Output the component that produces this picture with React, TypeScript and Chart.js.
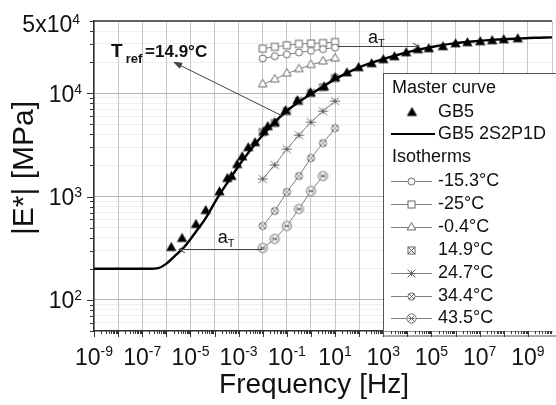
import React, { useEffect, useRef } from "react";
import { Chart, registerables } from "chart.js";

Chart.register(...registerables);

const FONT = "'Liberation Sans', Arial, Helvetica, sans-serif";

// ---- Master curve GB5 (shifted measurements): frequency [Hz], |E*| [MPa]
const masterFreq = [1.6e-6, 4.5e-6, 1.7e-5, 4.3e-5, 1.6e-4, 3.4e-4, 5.0e-4, 8.7e-4, 1.4e-3, 2.5e-3, 4.8e-3, 0.0112, 0.0162, 0.0316, 0.089, 0.275, 0.95, 3.5, 10, 31, 95, 330, 1000, 2900, 8900, 2.75e4, 7.8e4, 3.0e5, 1.0e6, 3.1e6, 1.05e7, 3.3e7, 1.0e8, 3.8e8];
const masterE = [318, 389, 531, 724, 1100, 1480, 1550, 2020, 2400, 2940, 3290, 4200, 4700, 5130, 6700, 8380, 10000, 11400, 14000, 15600, 17500, 19100, 20900, 22300, 24400, 26100, 26700, 27900, 29800, 30500, 31200, 31900, 32600, 33300];

// ---- GB5 2S2P1D model curve
const fitFreq = [1e-9, 2e-7, 5e-7, 9.8e-7, 2.5e-6, 6.5e-6, 1.66e-5, 4.3e-5, 1.2e-4, 3.7e-4, 1.55e-3, 6.3e-3, 0.026, 0.107, 0.45, 1.8, 12, 80, 525, 3470, 2.3e4, 1.5e5, 1e6, 6.6e6, 4.4e7, 2.9e8, 1.9e9, 1e10];
const fitE = [200, 200, 204, 223, 272, 339, 454, 619, 935, 1400, 2280, 3470, 5030, 6850, 8720, 10700, 14000, 17400, 20400, 23300, 26100, 28500, 30500, 31900, 33000, 33700, 34400, 34700];

// ---- Isotherms
const isoFreq = [0.01, 0.0316, 0.1, 0.316, 1, 3.16, 10];
const isoM15_3 = [21700, 22800, 23800, 24800, 25700, 26700, 27700];
const isoM25 = [27000, 28100, 29100, 30000, 30300, 30600, 31300];
const isoM0_4 = [12200, 13600, 15500, 17100, 18800, 20300, 21700];
const iso14_9 = [4200, 5130, 6700, 8380, 10000, 11400, 14000];
const iso24_7 = [1480, 2020, 2880, 3930, 5250, 6710, 8380];
const iso34_4 = [519, 724, 1106, 1580, 2360, 3290, 4590];
const iso43_5 = [318, 389, 519, 758, 1130, 1580];

const isoLabels = ["-15.3°C", "-25°C", "-0.4°C", "14.9°C", "24.7°C", "34.4°C", "43.5°C"];
const isoValues = [isoM15_3, isoM25, isoM0_4, iso14_9, iso24_7, iso34_4, iso43_5];
const isoMarkers = ["circle", "square", "triangle", "boxX", "star", "circXs", "circXl"];
const isoHasLine = [true, true, true, false, true, true, true];

// ---- axes
const xMin = 1e-9;
const xMax = 1e10;
const yMin = 50;
const yMax = 5e4;
const xLabelExps = [-9, -7, -5, -3, -1, 1, 3, 5, 7, 9];
const yLabelExps = [2, 3, 4];

const AXIS = "#333333";
const MK = "#676767";
const LN = "#808080";
const TXT = "#111111";

function makeMarker(kind: string): HTMLCanvasElement {
  const size = 15;
  const c = document.createElement("canvas");
  c.width = size;
  c.height = size;
  const g = c.getContext("2d")!;
  const m = size / 2;
  g.lineWidth = 1;
  g.strokeStyle = MK;
  g.fillStyle = "#ffffff";
  const xcross = (d: number) => {
    g.beginPath();
    g.moveTo(m - d, m - d);
    g.lineTo(m + d, m + d);
    g.moveTo(m + d, m - d);
    g.lineTo(m - d, m + d);
    g.stroke();
  };
  if (kind === "master") {
    const r = 6;
    g.fillStyle = "#000";
    g.beginPath();
    g.moveTo(m, m - r);
    g.lineTo(m + r * 0.866, m + r * 0.5);
    g.lineTo(m - r * 0.866, m + r * 0.5);
    g.closePath();
    g.fill();
  } else if (kind === "circle") {
    g.beginPath();
    g.arc(m, m, 3.5, 0, Math.PI * 2);
    g.fill();
    g.stroke();
  } else if (kind === "square") {
    g.fillRect(m - 3.5, m - 3.5, 7, 7);
    g.strokeRect(m - 3.5, m - 3.5, 7, 7);
  } else if (kind === "triangle") {
    const r = 5;
    g.beginPath();
    g.moveTo(m, m - r);
    g.lineTo(m + r * 0.866, m + r * 0.5);
    g.lineTo(m - r * 0.866, m + r * 0.5);
    g.closePath();
    g.fill();
    g.stroke();
  } else if (kind === "boxX") {
    g.fillRect(m - 3.5, m - 3.5, 7, 7);
    g.strokeRect(m - 3.5, m - 3.5, 7, 7);
    xcross(3.5);
  } else if (kind === "star") {
    g.beginPath();
    g.arc(m, m, 3, 0, Math.PI * 2);
    g.fill();
    g.beginPath();
    g.moveTo(m - 5, m);
    g.lineTo(m + 5, m);
    g.stroke();
    xcross(4);
    g.beginPath();
    g.moveTo(m, m - 3);
    g.lineTo(m, m + 3);
    g.stroke();
  } else if (kind === "circXs") {
    g.beginPath();
    g.arc(m, m, 3.6, 0, Math.PI * 2);
    g.fill();
    g.stroke();
    xcross(2.5);
  } else if (kind === "circXl") {
    g.beginPath();
    g.arc(m, m, 4.6, 0, Math.PI * 2);
    g.fill();
    g.stroke();
    xcross(3.3);
    g.beginPath();
    g.moveTo(m - 3, m);
    g.lineTo(m + 3, m);
    g.stroke();
  }
  return c;
}

function drawPow(ctx: CanvasRenderingContext2D, pre: string, exp: string, x: number, y: number, align: string, big: number, small: number, rise: number) {
  ctx.font = `${big}px ${FONT}`;
  const wb = ctx.measureText(pre).width;
  ctx.font = `${small}px ${FONT}`;
  const we = ctx.measureText(exp).width;
  const total = wb + we;
  const x0 = align === "center" ? x - total / 2 : align === "right" ? x - total : x;
  ctx.textAlign = "left";
  ctx.textBaseline = "alphabetic";
  ctx.font = `${big}px ${FONT}`;
  ctx.fillText(pre, x0, y);
  ctx.font = `${small}px ${FONT}`;
  ctx.fillText(exp, x0 + wb, y - rise);
}

function line(ctx: CanvasRenderingContext2D, x1: number, y1: number, x2: number, y2: number) {
  ctx.beginPath();
  ctx.moveTo(x1, y1);
  ctx.lineTo(x2, y2);
  ctx.stroke();
}

function arrowHead(ctx: CanvasRenderingContext2D, x: number, y: number, ang: number, len: number, spread: number, filled: boolean) {
  const a1 = ang + Math.PI - spread;
  const a2 = ang + Math.PI + spread;
  ctx.beginPath();
  ctx.moveTo(x + Math.cos(a1) * len, y + Math.sin(a1) * len);
  ctx.lineTo(x, y);
  ctx.lineTo(x + Math.cos(a2) * len, y + Math.sin(a2) * len);
  if (filled) {
    ctx.closePath();
    ctx.fill();
  }
  ctx.stroke();
}

const isDecade = (v: number) => Math.abs(Math.log10(v) - Math.round(Math.log10(v))) < 1e-6;

export default function App() {
  const ref = useRef<HTMLCanvasElement>(null);

  useEffect(() => {
    const canvas = ref.current!;
    const markers: Record<string, HTMLCanvasElement> = {};
    ["master", ...isoMarkers].forEach((k) => (markers[k] = makeMarker(k)));

    const xGrid: number[] = [];
    for (let e = Math.log10(xMin); e <= Math.log10(xMax); e++) xGrid.push(Math.pow(10, e));
    const yGrid: number[] = [];
    for (let e = 1; e <= 4; e++) for (let k = 1; k <= 9; k++) {
      const v = k * Math.pow(10, e);
      if (v >= yMin && v <= yMax) yGrid.push(v);
    }

    const pts = (xs: number[], ys: number[]) => ys.map((v, i) => ({ x: xs[i], y: v }));

    const datasets: any[] = [
      {
        label: "GB5",
        data: pts(masterFreq, masterE),
        showLine: false,
        pointStyle: markers.master,
        pointRadius: 5,
        order: 0,
      },
      {
        label: "GB5 2S2P1D",
        data: pts(fitFreq, fitE),
        showLine: true,
        borderColor: "#000",
        borderWidth: 2.4,
        pointRadius: 0,
        cubicInterpolationMode: "monotone",
        order: 1,
      },
    ];
    isoLabels.forEach((lab, i) => {
      datasets.push({
        label: lab,
        data: pts(isoFreq, isoValues[i]),
        showLine: isoHasLine[i],
        borderColor: LN,
        borderWidth: 1,
        pointStyle: markers[isoMarkers[i]],
        pointRadius: 4,
        order: 2 + i,
      });
    });

    const decor = {
      id: "decor",
      afterDraw(chart: any) {
        const { ctx, chartArea: a, scales } = chart;
        const sx = scales.x;
        const sy = scales.y;
        const X = (v: number) => sx.getPixelForValue(v);
        const Y = (v: number) => sy.getPixelForValue(v);
        ctx.save();

        // top frame line
        ctx.strokeStyle = AXIS;
        ctx.lineWidth = 1.5;
        line(ctx, a.left, a.top, a.right, a.top);

        // tick marks
        ctx.lineWidth = 1;
        for (let e = Math.log10(xMin); e < Math.log10(xMax); e++) {
          for (let k = 1; k <= 9; k++) {
            const px = Math.round(X(k * Math.pow(10, e))) + 0.5;
            line(ctx, px, a.bottom, px, a.bottom + (k === 1 ? 6 : 3));
          }
        }
        yGrid.forEach((v) => {
          const py = Math.round(Y(v)) + 0.5;
          line(ctx, a.left, py, a.left - (isDecade(v) ? 7 : 4), py);
        });

        // tick labels
        ctx.fillStyle = TXT;
        xLabelExps.forEach((e) => {
          drawPow(ctx, "10", String(e), X(Math.pow(10, e)), 365, "center", 23, 14, 9);
        });
        yLabelExps.forEach((e) => {
          drawPow(ctx, "10", String(e), 82, Y(Math.pow(10, e)) + 8.5, "right", 23, 14, 8);
        });
        drawPow(ctx, "5x10", "4", 80, 32, "right", 23, 14, 8);

        // axis titles
        ctx.font = `28px ${FONT}`;
        ctx.textAlign = "center";
        ctx.textBaseline = "alphabetic";
        ctx.fillText("Frequency [Hz]", 314, 393);
        ctx.save();
        ctx.translate(25, 168);
        ctx.rotate(-Math.PI / 2);
        ctx.font = `30px ${FONT}`;
        ctx.textBaseline = "middle";
        ctx.fillText("|E*| [MPa]", 0, 0);
        ctx.restore();

        // annotations
        ctx.strokeStyle = "#444";
        ctx.fillStyle = "#444";
        ctx.lineWidth = 1;
        // T_ref arrow
        const fx = X(0.068), fy = Y(6000), tx = X(2.1e-6), ty = Y(19900);
        line(ctx, fx, fy, tx, ty);
        arrowHead(ctx, tx, ty, Math.atan2(ty - fy, tx - fx), 8, 0.35, true);
        // upper a_T arrow
        const ux0 = X(10) + 3, ux1 = X(3.0e4), uy = Math.round(Y(28500)) + 0.5;
        line(ctx, ux0, uy, ux1, uy);
        arrowHead(ctx, ux1, uy, 0, 7, 0.5, false);
        // lower a_T arrow
        const lx0 = X(0.01), lx1 = X(3.3e-6), ly = Math.round(Y(311)) + 0.5;
        line(ctx, lx0, ly, lx1, ly);
        arrowHead(ctx, lx1, ly, Math.PI, 7, 0.5, false);

        ctx.fillStyle = TXT;
        ctx.textAlign = "left";
        ctx.textBaseline = "alphabetic";
        const aT = (x0: number, base: number) => {
          ctx.font = `18px ${FONT}`;
          ctx.fillText("a", x0, base);
          const w = ctx.measureText("a").width;
          ctx.font = `11px ${FONT}`;
          ctx.fillText("T", x0 + w, base + 4);
        };
        aT(ux0 + 30, uy - 4);
        aT(lx1 + 39, ly - 7);

        // T_ref = 14.9°C
        {
          const x0 = tx - 63;
          const b = ty - 5;
          ctx.font = `bold 19px ${FONT}`;
          ctx.fillText("T", x0, b);
          const w1 = ctx.measureText("T").width;
          ctx.font = `bold 13px ${FONT}`;
          ctx.fillText("ref", x0 + w1 + 3, b + 6);
          ctx.font = `bold 17px ${FONT}`;
          ctx.fillText("=14.9°C", x0 + 34, b);
        }

        // legend
        const lx = 383.5, lyTop = 73.5;
        ctx.fillStyle = "#fff";
        ctx.fillRect(lx, lyTop, 600 - lx, a.bottom - lyTop);
        ctx.strokeStyle = "#555";
        ctx.lineWidth = 1;
        ctx.strokeRect(lx, lyTop, 600 - lx, a.bottom - lyTop + 5);
        ctx.fillStyle = TXT;
        ctx.font = `18px ${FONT}`;
        ctx.textBaseline = "middle";
        ctx.textAlign = "left";
        const rows = [88, 112, 134, 157, 181, 204, 227, 250, 273, 296, 318];
        ctx.fillText("Master curve", 392, rows[0]);
        ctx.drawImage(markers.master, 412 - 7.5, rows[1] - 7.5 + 1);
        ctx.fillText("GB5", 438, rows[1]);
        ctx.strokeStyle = "#000";
        ctx.lineWidth = 2;
        line(ctx, 391, rows[2], 435, rows[2]);
        ctx.fillText("GB5 2S2P1D", 438, rows[2]);
        ctx.fillText("Isotherms", 392, rows[3]);
        ctx.strokeStyle = LN;
        ctx.lineWidth = 1;
        isoLabels.forEach((lab, i) => {
          const ry = rows[4 + i];
          if (isoHasLine[i]) line(ctx, 391, Math.round(ry) + 0.5, 432, Math.round(ry) + 0.5);
          ctx.drawImage(markers[isoMarkers[i]], 411.5 - 7.5, Math.round(ry) + 0.5 - 7.5);
          ctx.fillText(lab, 438, ry);
        });

        ctx.restore();
      },
    };

    const chart = new Chart(canvas, {
      type: "scatter",
      data: { datasets },
      options: {
        responsive: false,
        animation: false,
        devicePixelRatio: 1,
        layout: { padding: { top: 21, left: 0, right: 0, bottom: 0 } },
        plugins: {
          legend: { display: false },
          tooltip: { enabled: false },
          title: { display: false },
        },
        scales: {
          x: {
            type: "logarithmic",
            min: xMin,
            max: xMax,
            afterBuildTicks: (s: any) => {
              s.ticks = xGrid.map((v) => ({ value: v }));
            },
            afterFit: (s: any) => {
              s.height = 74;
            },
            ticks: { display: false },
            grid: { color: "#c6c6c6", lineWidth: 1, drawTicks: false },
            border: { display: true, color: AXIS, width: 1.5 },
          },
          y: {
            type: "logarithmic",
            min: yMin,
            max: yMax,
            afterBuildTicks: (s: any) => {
              s.ticks = yGrid.map((v) => ({ value: v }));
            },
            afterFit: (s: any) => {
              s.width = 94;
            },
            ticks: { display: false },
            grid: {
              color: (c: any) => (c.tick && isDecade(c.tick.value) ? "#b4b4b4" : "#cdcdcd"),
              lineWidth: 1,
              drawTicks: false,
            },
            border: {
              display: true,
              color: AXIS,
              width: 1.5,
              dash: (c: any) => (c.tick && !isDecade(c.tick.value) ? [1, 2] : []),
            },
          },
        },
      } as any,
      plugins: [decor],
    });
    return () => chart.destroy();
  }, []);

  return (
    <div style={{ position: "fixed", left: 0, top: 0, width: 556, height: 405, overflow: "hidden", background: "#fff" }}>
      <canvas ref={ref} width={558} height={405} style={{ width: 558, height: 405, display: "block" }} />
    </div>
  );
}
